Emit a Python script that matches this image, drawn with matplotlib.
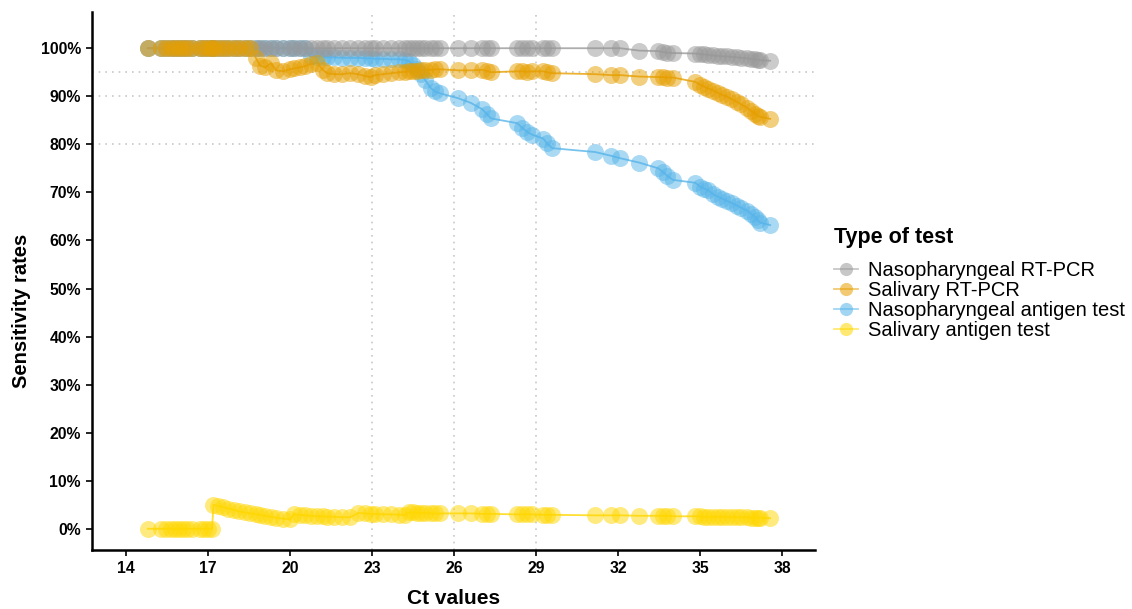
import numpy as np
from matplotlib import pyplot as plt
from matplotlib.lines import Line2D

plt.rcParams['font.family'] = ['Liberation Sans', 'DejaVu Sans']

# Ct values (cumulative threshold), shared by all four tests
ct = [14.8, 15.3, 15.45, 15.65, 15.8, 15.95, 16.1, 16.25, 16.4, 16.7, 16.85, 17.0, 17.15,
      17.2, 17.35, 17.55, 17.75, 17.95, 18.15, 18.35, 18.55, 18.75, 18.9,
      19.1, 19.3, 19.5, 19.75, 20.0, 20.15, 20.35, 20.55, 20.75, 21.0,
      21.2, 21.35, 21.6, 21.9, 22.2, 22.5, 22.75, 22.95, 23.1, 23.4,
      23.7, 24.0, 24.2, 24.35, 24.5, 24.65, 24.8, 24.95, 25.15, 25.3, 25.49,
      26.15, 26.62, 27.03, 27.2, 27.35, 28.31, 28.5, 28.67, 28.86, 29.26,
      29.4, 29.59, 31.16, 31.75, 32.08, 32.77, 33.47, 33.65, 33.80, 34.01,
      34.82, 35.00, 35.15, 35.30, 35.48, 35.65, 35.8, 35.99, 36.15, 36.36,
      36.5, 36.72, 36.85, 37.01, 37.1, 37.20, 37.56]

# sensitivity rates (%)
naso_pcr = [100] * 13 + [100] * 41 + [100] * 15 + [
    99.5, 99.4, 99.2, 99.1, 99.0, 98.9, 98.8, 98.7, 98.6, 98.5, 98.4,
    98.3, 98.3, 98.2, 98.1, 98.0, 97.9, 97.8, 97.7, 97.6, 97.5, 97.4]

sal_pcr = [100] * 13 + [100] * 8 + [
    98.0, 96.4, 96.0, 96.9, 95.4, 95.2, 95.6, 95.8, 96.0, 96.3, 96.7, 97.0,
    95.5, 94.8, 94.6, 94.6, 94.8, 94.6, 94.2, 94.0, 94.4, 94.6, 94.8, 95.0,
    95.1, 95.2, 95.3, 95.3, 95.4, 95.5, 95.5, 95.6, 95.6,
    95.4, 95.4, 95.5, 95.3, 95.0, 95.2, 95.2, 95.1, 95.2, 95.2, 95.0, 94.8,
    94.6, 94.4, 94.4, 94.1, 94.0, 94.0, 93.9, 93.9, 93.0, 92.4, 92.0, 91.6,
    91.2, 90.7, 90.3, 89.9, 89.4, 88.8, 88.3, 87.6, 87.0, 86.4, 86.0, 85.7, 85.3]

naso_ag = [100] * 13 + [100] * 18 + [
    98.3, 98.2, 98.2, 98.1, 98.1, 98.0, 98.0, 98.0, 97.9, 97.9, 97.8, 97.8,
    97.7, 97.7, 97.6, 97.3, 96.6, 95.6, 94.6, 93.3, 91.7, 91.0, 90.6,
    89.6, 88.6, 87.3, 86.3, 85.4, 84.4, 83.4, 82.6, 82.0, 81.2, 80.2, 79.2,
    78.4, 77.6, 77.1, 76.2, 75.0, 74.2, 73.4, 72.6, 72.0, 71.2, 70.8, 70.4,
    69.6, 69.1, 68.7, 68.2, 67.8, 67.2, 66.8, 66.2, 65.6, 64.9, 64.2, 63.7, 63.2]

sal_ag = [0] * 13 + [
    5.0, 4.8, 4.5, 4.2, 3.9, 3.6, 3.4, 3.2, 3.0, 2.9, 2.7, 2.5, 2.3, 2.1, 2.0,
    3.0, 2.9, 2.8, 2.7, 2.6, 2.6, 2.5, 2.5, 2.4, 2.4, 3.3, 3.2, 3.1, 3.1, 3.0,
    3.0, 2.9, 2.9, 3.4, 3.4, 3.3, 3.3, 3.3, 3.2, 3.2, 3.2,
    3.2, 3.2, 3.1, 3.1, 3.1, 3.0, 3.0, 3.0, 3.0, 2.9, 2.9, 2.9, 2.8, 2.8, 2.8,
    2.7, 2.7, 2.7, 2.7, 2.6, 2.6, 2.6, 2.5, 2.5, 2.5, 2.5, 2.5, 2.4, 2.4, 2.4,
    2.4, 2.4, 2.3, 2.3, 2.3, 2.3, 2.2]

labels = ['Nasopharyngeal RT-PCR', 'Salivary RT-PCR',
          'Nasopharyngeal antigen test', 'Salivary antigen test']
colors = ['#999999', '#E69F00', '#56B4E9', '#FFD700']
series = [naso_pcr, sal_pcr, naso_ag, sal_ag]

fig = plt.figure(figsize=(11.32, 6.09), dpi=100)
ax = fig.add_axes([0.0813, 0.097, 0.6387, 0.883])

# reference lines
for xv in [23, 26, 29]:
    ax.axvline(xv, color='#c8c8c8', lw=1.2, ls=(0, (1, 3)), zorder=0)
for yv in [80, 90, 95]:
    ax.axhline(yv, color='#c8c8c8', lw=1.2, ls=(0, (1, 3)), zorder=0)

# draw order: nasopharyngeal antigen under the RT-PCR curves
for i in [2, 0, 1, 3]:
    ax.plot(ct, series[i], color=colors[i], lw=1.3, alpha=0.8, zorder=2)
    ax.scatter(ct, series[i], s=150, color=colors[i], alpha=0.5,
               linewidths=0, zorder=3)

ax.set_xlim(12.76, 39.2)
ax.set_ylim(-4.4, 107.5)
ax.set_xticks(np.arange(14, 39, 3))
ax.set_yticks(np.arange(0, 101, 10))
ax.set_yticklabels(['%d%%' % v for v in range(0, 101, 10)])

for s in ['top', 'right']:
    ax.spines[s].set_visible(False)
for s in ['left', 'bottom']:
    ax.spines[s].set_linewidth(1.8)
ax.tick_params(length=4, width=1.2, labelsize=11.3, pad=4)
for t in ax.get_xticklabels() + ax.get_yticklabels():
    t.set_fontweight('bold')

ax.set_xlabel('Ct values', fontsize=15, fontweight='bold')
ax.set_ylabel('Sensitivity rates', fontsize=14.5, fontweight='bold')
ax.xaxis.set_label_coords(0.5, -0.072)
ax.yaxis.set_label_coords(-0.085, 0.444)

handles = [Line2D([0], [0], color=c, marker='o', markersize=9.5, alpha=0.55,
                  lw=1.3, markeredgewidth=0) for c in colors]
leg = fig.legend(handles, labels, loc='upper left', bbox_to_anchor=(0.7277, 0.6437),
                 frameon=False, title='Type of test', fontsize=14.5,
                 handlelength=1.2, handletextpad=0.5, labelspacing=0.05,
                 borderpad=0)
leg.get_title().set_fontsize(15.5)
leg.get_title().set_fontweight('bold')
leg._legend_box.align = 'left'
leg._legend_box.sep = 9

fig.savefig('out.png', dpi=100)
